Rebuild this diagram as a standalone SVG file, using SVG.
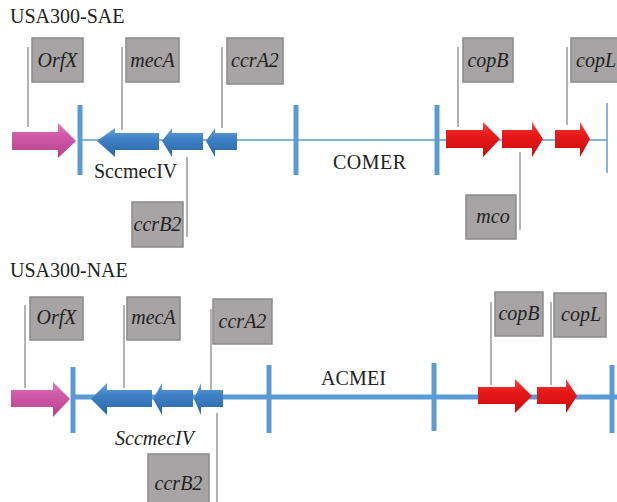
<svg xmlns="http://www.w3.org/2000/svg" width="617" height="502" viewBox="0 0 617 502">
<style>
.title{font-family:"Liberation Serif",serif;font-size:20px;fill:#222}
.lbl{font-family:"Liberation Serif",serif;font-style:italic;font-size:20px;fill:#222;text-anchor:middle}
.box{fill:#a6a4a4;stroke:#8c8a8a;stroke-width:1.5}
.lead{stroke:#9a9a9a;stroke-width:1.5;fill:none}
.bar{stroke:#5b9bd5;stroke-width:5;fill:none}
.thin{stroke:#5b9bd5;stroke-width:1.5;fill:none}
.thick{stroke:#5b9bd5;stroke-width:5;fill:none}
.pink{fill:url(#gp)}
.blue{fill:url(#gb)}
.red{fill:url(#gr)}
</style>
<defs>
<linearGradient id="gp" x1="0" y1="0" x2="0" y2="1"><stop offset="0" stop-color="#e07cc0"/><stop offset="0.35" stop-color="#cf5aa8"/><stop offset="1" stop-color="#b8418f"/></linearGradient>
<linearGradient id="gb" x1="0" y1="0" x2="0" y2="1"><stop offset="0" stop-color="#6aa6dc"/><stop offset="0.35" stop-color="#3f82c6"/><stop offset="1" stop-color="#2a65a8"/></linearGradient>
<linearGradient id="gr" x1="0" y1="0" x2="0" y2="1"><stop offset="0" stop-color="#f24848"/><stop offset="0.35" stop-color="#e81a1a"/><stop offset="1" stop-color="#d10a0a"/></linearGradient>
</defs>

<!-- Top panel -->
<text class="title" x="10" y="23">USA300-SAE</text>

<g id="connectors-top">
<line class="thin" x1="79" y1="140" x2="607" y2="140"/>
<line class="bar" x1="80" y1="105" x2="80" y2="175"/>
<line class="bar" x1="296" y1="105" x2="296" y2="175"/>
<line class="bar" x1="437" y1="105" x2="437" y2="175"/>
<line class="thin" x1="607" y1="103" x2="607" y2="173"/>
<line class="lead" x1="28" y1="47" x2="28" y2="127"/>
<line class="lead" x1="122" y1="47" x2="122" y2="130"/>
<line class="lead" x1="222" y1="47" x2="222" y2="128"/>
<line class="lead" x1="187" y1="157" x2="187" y2="237"/>
<line class="lead" x1="458" y1="47" x2="458" y2="127"/>
<line class="lead" x1="567" y1="47" x2="567" y2="125"/>
<line class="lead" x1="520" y1="152" x2="520" y2="230"/>
</g>

<g id="top-orfx-arrow"><polygon class="pink" points="12,132 58,132 58,123 76,141 58,158 58,150 12,150"/></g>
<g id="top-meca-arrow"><polygon class="blue" points="159,133 115,133 115,128 97,141 115,157 115,150 159,150"/></g>
<g id="top-ccrb2-arrow"><polygon class="blue" points="203,133 172,133 172,128 162,141 172,157 172,150 203,150"/></g>
<g id="top-ccra2-arrow"><polygon class="blue" points="237,133 215,133 215,128 206,141 215,157 215,150 237,150"/></g>
<g id="top-copb-arrow"><polygon class="red" points="446,130 483,130 483,122 500,139 483,157 483,148 446,148"/></g>
<g id="top-mco-arrow"><polygon class="red" points="502,130 532,130 532,122 543,139 532,157 532,148 502,148"/></g>
<g id="top-copl-arrow"><polygon class="red" points="555,130 580,130 580,122 590,139 580,157 580,148 555,148"/></g>

<g id="top-orfx"><rect class="box" x="32" y="38" width="51" height="44"/><text class="lbl" x="57.5" y="67">OrfX</text></g>
<g id="top-meca"><rect class="box" x="126" y="38" width="53" height="44"/><text class="lbl" x="152.5" y="67">mecA</text></g>
<g id="top-ccra2"><rect class="box" x="227" y="38" width="56" height="46"/><text class="lbl" x="255" y="67">ccrA2</text></g>
<g id="top-ccrb2"><rect class="box" x="132" y="202" width="51" height="45"/><text class="lbl" x="157.5" y="231">ccrB2</text></g>
<g id="top-copb"><rect class="box" x="463" y="38" width="50" height="44"/><text class="lbl" x="488" y="67">copB</text></g>
<g id="top-copl"><rect class="box" x="571" y="38" width="52" height="44"/><text class="lbl" x="596" y="67">copL</text></g>
<g id="top-mco"><rect class="box" x="466" y="195" width="50" height="44"/><text class="lbl" x="493" y="223">mco</text></g>
<g id="top-sccmeciv"><text class="title" x="94" y="178">SccmecIV</text></g>
<g id="top-comer"><text class="title" x="333" y="169" textLength="73">COMER</text></g>

<!-- Bottom panel -->
<text class="title" x="10" y="277">USA300-NAE</text>

<g id="connectors-bottom">
<line class="thick" x1="73" y1="397" x2="617" y2="397"/>
<line class="bar" x1="73" y1="367" x2="73" y2="433"/>
<line class="bar" x1="269" y1="365" x2="269" y2="433"/>
<line class="bar" x1="434" y1="363" x2="434" y2="431"/>
<line class="bar" x1="612" y1="365" x2="612" y2="433"/>
<line class="lead" x1="25" y1="305" x2="25" y2="388"/>
<line class="lead" x1="124" y1="305" x2="124" y2="388"/>
<line class="lead" x1="211" y1="309" x2="211" y2="390"/>
<line class="lead" x1="217" y1="413" x2="217" y2="502"/>
<line class="lead" x1="491" y1="302" x2="491" y2="385"/>
<line class="lead" x1="551" y1="302" x2="551" y2="385"/>
</g>

<g id="bot-orfx-arrow"><polygon class="pink" points="11,390 53,390 53,382 70,399 53,417 53,407 11,407"/></g>
<g id="bot-meca-arrow"><polygon class="blue" points="152,390 107,390 107,383 91,399 107,415 107,407 152,407"/></g>
<g id="bot-ccrb2-arrow"><polygon class="blue" points="193,390 162,390 162,383 153,399 162,415 162,407 193,407"/></g>
<g id="bot-ccra2-arrow"><polygon class="blue" points="223,390 201,390 201,383 194,399 201,415 201,407 223,407"/></g>
<g id="bot-copb-arrow"><polygon class="red" points="478,387 515,387 515,379 532,396 515,413 515,404 478,404"/></g>
<g id="bot-copl-arrow"><polygon class="red" points="537,387 566,387 566,379 577,396 566,413 566,404 537,404"/></g>

<g id="bot-orfx"><rect class="box" x="30" y="297" width="53" height="43"/><text class="lbl" x="56.5" y="324">OrfX</text></g>
<g id="bot-meca"><rect class="box" x="127" y="297" width="53" height="43"/><text class="lbl" x="153.5" y="324">mecA</text></g>
<g id="bot-ccra2"><rect class="box" x="213" y="299" width="59" height="45"/><text class="lbl" x="242.5" y="328">ccrA2</text></g>
<g id="bot-ccrb2"><rect class="box" x="148" y="454" width="61" height="52"/><text class="lbl" x="178.5" y="490">ccrB2</text></g>
<g id="bot-copb"><rect class="box" x="495" y="292" width="48" height="44"/><text class="lbl" x="519" y="320">copB</text></g>
<g id="bot-copl"><rect class="box" x="554" y="293" width="52" height="44"/><text class="lbl" x="581" y="321">copL</text></g>
<g id="bot-sccmeciv"><text class="lbl" x="154.5" y="445">SccmecIV</text></g>
<g id="bot-acmei"><text class="title" x="321" y="385" textLength="65">ACMEI</text></g>
</svg>
